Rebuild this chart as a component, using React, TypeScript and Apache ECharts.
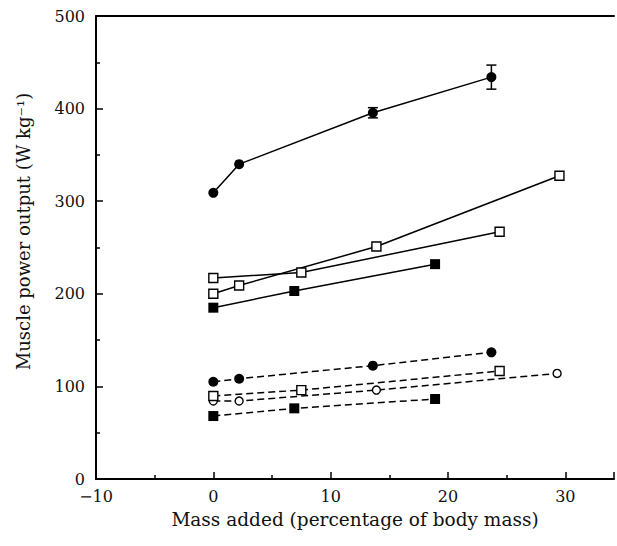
import React, { useEffect, useRef } from "react";
import * as echarts from "echarts";

const xTicks = [-10, 0, 10, 20, 30];
const yTicks = [0, 100, 200, 300, 400, 500];

// Solid lines
const solidFilledCircle: number[][] = [[0, 309], [2.2, 340], [13.6, 395.5], [23.7, 434]];
const solidFilledCircleErr: number[][] = [[13.6, 395.5, 5.5], [23.7, 434, 13]];
const solidOpenSquareA: number[][] = [[0, 200], [2.2, 209], [13.9, 251], [29.5, 327.5]];
const solidOpenSquareB: number[][] = [[0, 217], [7.5, 223], [24.4, 267]];
const solidFilledSquare: number[][] = [[0, 185], [6.9, 203], [18.9, 232]];

// Dashed lines
const dashFilledCircle: number[][] = [[0, 105], [2.2, 108.3], [13.6, 122.4], [23.7, 136.8]];
const dashOpenCircle: number[][] = [[0, 84.2], [2.2, 84.2], [13.9, 96], [29.3, 114]];
const dashOpenSquare: number[][] = [[0, 89.6], [7.5, 96], [24.4, 116.6]];
const dashFilledSquare: number[][] = [[0, 68], [6.9, 76.3], [18.9, 86.4]];

const FONT = "DejaVu Serif";

function lineSeries(data: number[][], symbol: string, filled: boolean, dashed: boolean, size: number) {
  return {
    type: "line",
    data,
    symbol,
    symbolSize: size,
    showAllSymbol: true,
    lineStyle: { color: "#000", width: 1.5, type: dashed ? [7, 4] : "solid" },
    itemStyle: filled
      ? { color: "#000", borderColor: "#000", borderWidth: 0 }
      : { color: "#fff", borderColor: "#000", borderWidth: 1.4 },
    emphasis: { disabled: true },
    z: filled ? 3 : 4,
  };
}

export default function App() {
  const ref = useRef<HTMLDivElement>(null);
  useEffect(() => {
    if (!ref.current) return;
    const chart = echarts.init(ref.current, undefined, { renderer: "svg" });
    const axisCommon = {
      min: -10,
      max: 34.15,
      interval: 10,
    };
    chart.setOption({
      animation: false,
      backgroundColor: "#fff",
      grid: { left: 96, right: 0, top: 16, bottom: 67 },
      xAxis: [
        {
          type: "value",
          ...axisCommon,
          position: "bottom",
          name: "Mass added (percentage of body mass)",
          nameLocation: "middle",
          nameGap: 31,
          nameTextStyle: { fontFamily: FONT, fontSize: 18.5, color: "#111" },
          axisLine: { show: true, onZero: false, lineStyle: { color: "#000", width: 2 } },
          axisTick: { show: true, inside: true, length: 7, lineStyle: { color: "#000", width: 1.5 } },
          minorTick: { show: true, splitNumber: 2, length: 4, lineStyle: { color: "#000", width: 1.5 } },
          splitLine: { show: false },
          axisLabel: {
            fontFamily: FONT,
            fontSize: 16,
            color: "#111",
            margin: 9,
            formatter: (v: number) => (xTicks.includes(v) ? String(v).replace("-", "\u2212") : ""),
          },
        },
        {
          type: "value",
          ...axisCommon,
          position: "top",
          axisLine: { show: true, onZero: false, lineStyle: { color: "#000", width: 2 } },
          axisTick: { show: false },
          axisLabel: { show: false },
          splitLine: { show: false },
        },
      ],
      yAxis: {
        type: "value",
        min: 0,
        max: 500,
        interval: 100,
        name: "Muscle power output (W kg\u207B\u00B9)",
        nameLocation: "middle",
        nameGap: 64,
        nameTextStyle: { fontFamily: FONT, fontSize: 18, color: "#111", padding: [0, 0, 0, 32] },
        axisLine: { show: true, onZero: false, lineStyle: { color: "#000", width: 2 } },
        axisTick: { show: true, inside: true, length: 7, lineStyle: { color: "#000", width: 1.5 } },
        minorTick: { show: true, splitNumber: 2, length: 4, lineStyle: { color: "#000", width: 1.5 } },
        splitLine: { show: false },
        axisLabel: {
          fontFamily: FONT,
          fontSize: 16,
          color: "#111",
          margin: 11,
          formatter: (v: number) => (yTicks.includes(v) ? String(v) : ""),
        },
      },
      series: [
        lineSeries(solidFilledCircle, "circle", true, false, 10),
        lineSeries(solidOpenSquareA, "rect", false, false, 9),
        lineSeries(solidOpenSquareB, "rect", false, false, 9),
        lineSeries(solidFilledSquare, "rect", true, false, 10),
        lineSeries(dashFilledCircle, "circle", true, true, 10),
        lineSeries(dashOpenCircle, "circle", false, true, 8),
        lineSeries(dashOpenSquare, "rect", false, true, 9),
        lineSeries(dashFilledSquare, "rect", true, true, 10),
        {
          type: "custom",
          data: solidFilledCircleErr,
          z: 5,
          renderItem: (params: any, api: any) => {
            const x = api.value(0);
            const y = api.value(1);
            const e = api.value(2);
            const top = api.coord([x, y + e]);
            const bot = api.coord([x, y - e]);
            const w = 5;
            const style = { stroke: "#000", lineWidth: 1.5 };
            return {
              type: "group",
              children: [
                { type: "line", shape: { x1: top[0], y1: top[1], x2: bot[0], y2: bot[1] }, style },
                { type: "line", shape: { x1: top[0] - w, y1: top[1], x2: top[0] + w, y2: top[1] }, style },
                { type: "line", shape: { x1: bot[0] - w, y1: bot[1], x2: bot[0] + w, y2: bot[1] }, style },
              ],
            };
          },
        },
      ],
    });
    return () => chart.dispose();
  }, []);
  return (
    <div
      ref={ref}
      style={{ position: "fixed", left: 0, top: 0, width: 617, height: 546, background: "#fff" }}
    />
  );
}
